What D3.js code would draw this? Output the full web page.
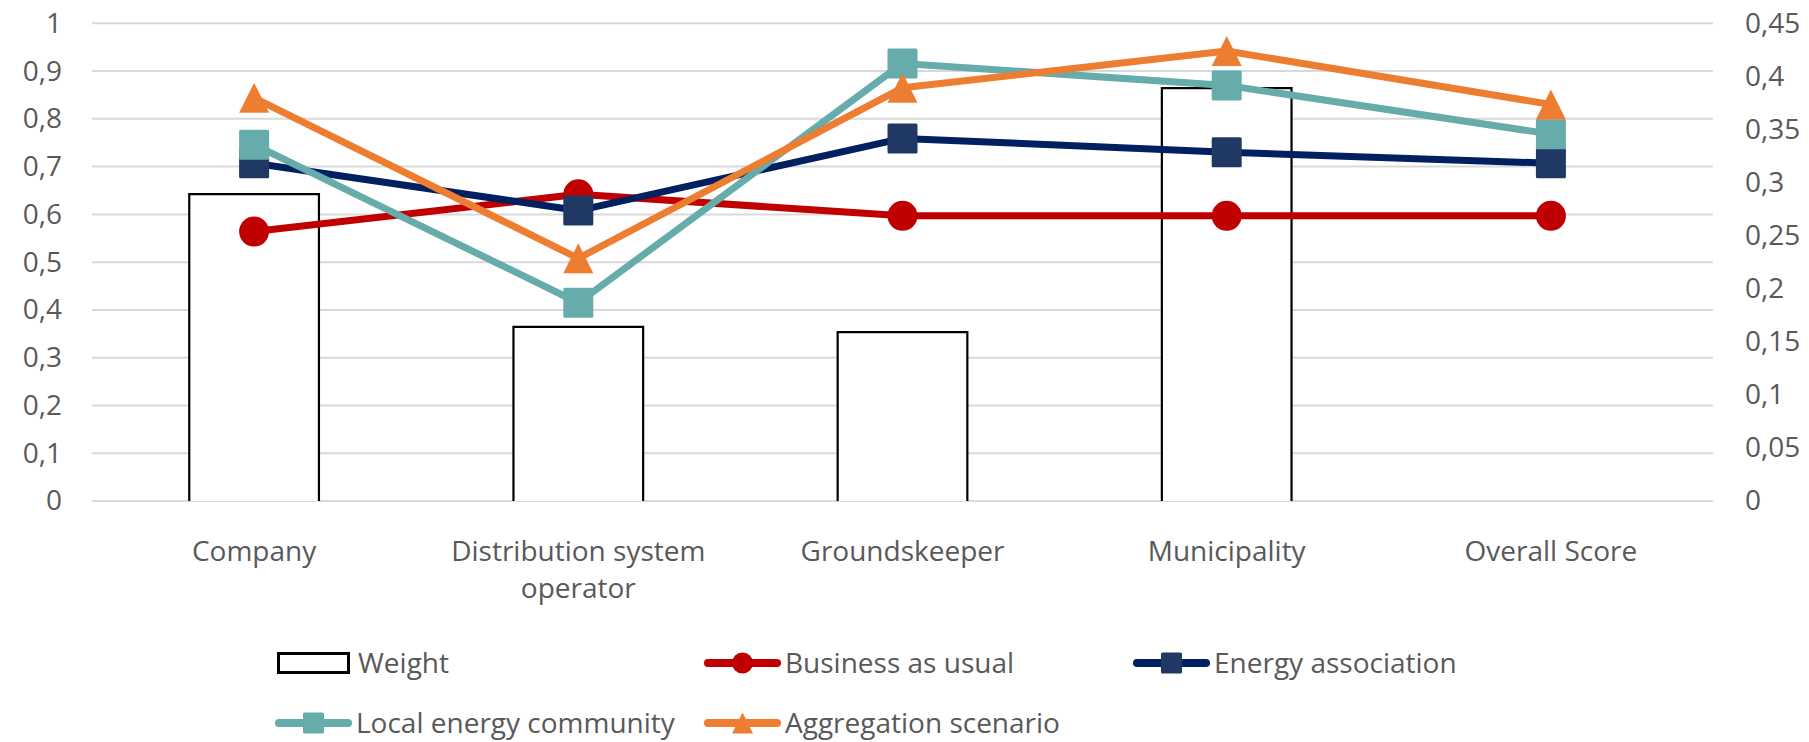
<!DOCTYPE html>
<html>
<head>
<meta charset="utf-8">
<script src="https://cdn.jsdelivr.net/npm/d3@7"></script>
<style>
  html, body { margin: 0; padding: 0; background: #ffffff; }
  svg { display: block; }
  text { font-family: "Open Sans", "Noto Sans", sans-serif; fill: #595959; }
</style>
</head>
<body>
<svg id="chart" width="1809" height="742"></svg>
<script>
// ---------- data ----------
const categories = ["Company", "Distribution system operator", "Groundskeeper", "Municipality", "Overall Score"];
const weight = [0.289, 0.164, 0.159, 0.389, null];
const businessAsUsual = [0.564, 0.642, 0.597, 0.597, 0.597];
const energyAssociation = [0.707, 0.608, 0.759, 0.730, 0.707];
const localEnergyCommunity = [0.746, 0.415, 0.916, 0.870, 0.768];
const aggregationScenario = [0.844, 0.508, 0.865, 0.942, 0.830];
const leftTicks = [0, 0.1, 0.2, 0.3, 0.4, 0.5, 0.6, 0.7, 0.8, 0.9, 1];
const rightTicks = [0, 0.05, 0.1, 0.15, 0.2, 0.25, 0.3, 0.35, 0.4, 0.45];
const seriesNames = ["Weight", "Business as usual", "Energy association", "Local energy community", "Aggregation scenario"];

// ---------- styles ----------
const lineSeries = [
  { name: seriesNames[1], values: businessAsUsual, line: "#C00000", fill: "#C00000", shape: "circle" },
  { name: seriesNames[2], values: energyAssociation, line: "#002060", fill: "#1F3864", shape: "square" },
  { name: seriesNames[3], values: localEnergyCommunity, line: "#66ACAA", fill: "#66ACAA", shape: "square" },
  { name: seriesNames[4], values: aggregationScenario, line: "#ED7D31", fill: "#ED7D31", shape: "triangle" }
];

const W = 1809, H = 742;
const plot = { left: 92, right: 1713, top: 23.3, bottom: 501 };
const svg = d3.select("#chart");
svg.append("rect").attr("width", W).attr("height", H).attr("fill", "#fff");

const x = d3.scaleBand().domain(categories).range([plot.left, plot.right])
  .paddingInner(0.6).paddingOuter(0.3);
const cx = c => x(c) + x.bandwidth() / 2;
const yL = d3.scaleLinear().domain([0, 1]).range([plot.bottom, plot.top]);
const yR = d3.scaleLinear().domain([0, 0.45]).range([plot.bottom, plot.top]);
const fmt = v => String(+v.toFixed(2)).replace(".", ",");

// gridlines
svg.append("g").selectAll("line").data(leftTicks).join("line")
  .attr("x1", plot.left).attr("x2", plot.right)
  .attr("y1", d => yL(d)).attr("y2", d => yL(d))
  .attr("stroke", "#D9D9D9").attr("stroke-width", 2);

// left axis
const gL = svg.append("g").attr("transform", `translate(${plot.left - 30},0)`)
  .call(d3.axisLeft(yL).tickValues(leftTicks).tickFormat(fmt).tickSize(0).tickPadding(0));
gL.select(".domain").remove();
gL.selectAll("text").attr("font-size", 28).attr("fill", "#595959")
  .style("font-family", "'Open Sans', sans-serif");

// right axis
const gR = svg.append("g").attr("transform", `translate(${plot.right + 32},0)`)
  .call(d3.axisRight(yR).tickValues(rightTicks).tickFormat(fmt).tickSize(0).tickPadding(0));
gR.select(".domain").remove();
gR.selectAll("text").attr("font-size", 28).attr("fill", "#595959")
  .style("font-family", "'Open Sans', sans-serif");

// bars (weight, right axis) - outlined, open at the bottom
const barData = categories.map((c, i) => ({ c, v: weight[i] })).filter(d => d.v != null);
svg.append("g").selectAll("path").data(barData).join("path")
  .attr("d", d => {
    const x0 = x(d.c), x1 = x(d.c) + x.bandwidth(), y0 = yR(0), y1 = yR(d.v);
    return `M${x0},${y0}L${x0},${y1}L${x1},${y1}L${x1},${y0}`;
  })
  .attr("fill", "#ffffff").attr("stroke", "#000").attr("stroke-width", 2.2)
  .attr("stroke-linejoin", "miter");

// marker drawer
function marker(sel, shape, size, fill) {
  const h = size / 2;
  if (shape === "circle") {
    sel.append("circle").attr("r", h).attr("fill", fill);
  } else if (shape === "square") {
    sel.append("rect").attr("x", -h).attr("y", -h).attr("width", size).attr("height", size)
      .attr("rx", 1.5).attr("fill", fill);
  } else {
    sel.append("path").attr("d", `M0,${-h}L${h},${h}L${-h},${h}Z`).attr("fill", fill);
  }
}

// line series
const lineGen = d3.line().x(d => cx(d.c)).y(d => yL(d.v));
lineSeries.forEach(s => {
  const pts = categories.map((c, i) => ({ c, v: s.values[i] }));
  const g = svg.append("g");
  g.append("path").datum(pts).attr("d", lineGen)
    .attr("fill", "none").attr("stroke", s.line).attr("stroke-width", 7)
    .attr("stroke-linejoin", "round").attr("stroke-linecap", "round");
  g.selectAll("g.m").data(pts).join("g").attr("class", "m")
    .attr("transform", d => `translate(${cx(d.c)},${yL(d.v)})`)
    .each(function () { marker(d3.select(this), s.shape, 30, s.fill); });
});

// category labels
const catG = svg.append("g");
categories.forEach(c => {
  const t = catG.append("text").attr("x", cx(c)).attr("y", 561)
    .attr("text-anchor", "middle").attr("font-size", 28);
  const words = c.split(" ");
  let line = [], lines = [];
  const probe = catG.append("text").attr("font-size", 28);
  words.forEach(w => {
    const test = line.concat([w]).join(" ");
    probe.text(test);
    if (probe.node().getComputedTextLength() > 300 && line.length) {
      lines.push(line.join(" ")); line = [w];
    } else line.push(w);
  });
  lines.push(line.join(" "));
  probe.remove();
  lines.forEach((l, i) => t.append("tspan").attr("x", cx(c)).attr("dy", i ? 37 : 0).text(l));
});

// legend
const legendItems = [
  { name: seriesNames[0], kind: "box", x: 277, y: 663 },
  { name: seriesNames[1], kind: "line", s: lineSeries[0], x: 704, y: 663 },
  { name: seriesNames[2], kind: "line", s: lineSeries[1], x: 1133, y: 663 },
  { name: seriesNames[3], kind: "line", s: lineSeries[2], x: 275, y: 723 },
  { name: seriesNames[4], kind: "line", s: lineSeries[3], x: 704, y: 723 }
];
const lg = svg.append("g");
legendItems.forEach(it => {
  const g = lg.append("g").attr("transform", `translate(${it.x},${it.y})`);
  if (it.kind === "box") {
    g.append("rect").attr("x", 1.5).attr("y", -9.5).attr("width", 70).attr("height", 19)
      .attr("fill", "#fff").attr("stroke", "#000").attr("stroke-width", 3);
  } else {
    g.append("line").attr("x1", 4).attr("x2", 73).attr("y1", 0).attr("y2", 0)
      .attr("stroke", it.s.line).attr("stroke-width", 8).attr("stroke-linecap", "round");
    const m = g.append("g").attr("transform", "translate(38.5,0)");
    marker(m, it.s.shape, 21, it.s.fill);
  }
  g.append("text").attr("x", 81).attr("y", 0).attr("dy", "0.35em")
    .attr("font-size", 28).text(it.name);
});
</script>
</body>
</html>
